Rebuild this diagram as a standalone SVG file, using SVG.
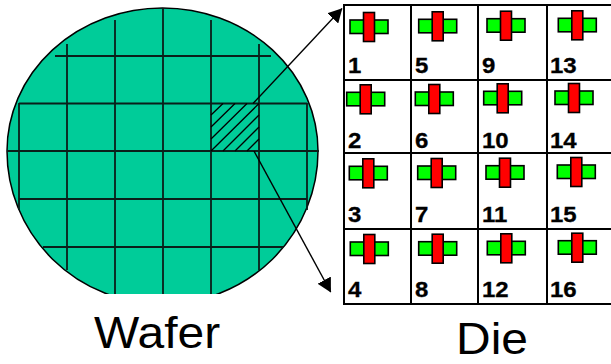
<svg xmlns="http://www.w3.org/2000/svg" width="611" height="364" viewBox="0 0 611 364">
<style>
.g{stroke:#0a1f1a;stroke-width:1.8;fill:none}
.h{stroke:#000;stroke-width:1.3;fill:none}
.t{stroke:#000;stroke-width:1.4;fill:none}
.n{font:bold 22px "Liberation Sans",Arial,sans-serif;fill:#000;stroke:#000;stroke-width:.3}
.l{font:44px "Liberation Sans",Arial,sans-serif;fill:#000}
.gr{fill:#00ff00;stroke:#000;stroke-width:1.6}
.rd{fill:#ff0000;stroke:#000;stroke-width:1.6}
.b{stroke:#000;stroke-width:2;fill:none}
</style>
<defs>
<clipPath id="cut"><rect x="0" y="0" width="330" height="294"/></clipPath>
<marker id="ah" viewBox="0 0 14 15" refX="13.500" refY="7.500" markerWidth="14" markerHeight="15" markerUnits="userSpaceOnUse" orient="auto"><path d="M0 0L14 7.500L0 15Z" fill="#000"/></marker>
<g id="x"><rect class="gr" x="-19" y="-7" width="38" height="13.500"/><rect class="rd" x="-5.500" y="-14.500" width="11" height="29"/></g>
</defs>
<g id="wafer">
<path d="M7 151A155.500 143 0 0 1 318 151A155.500 153 0 0 1 7 151Z" fill="#00cc99" stroke="#000" stroke-width="1.5" clip-path="url(#cut)"/>
<path class="g" d="M67 44V270M115 20V294M163 8V294M211 20V294M259 44V270M19 103V210M307 103V210M55 56H271M19 103.500H307M7 151H319M19 199H307M43 247H283"/>
<path class="h" d="M211 115L223 103.500M211 127L235 103.500M211 139L247 103.500M211 151L259 103.500M223 151L259 115M235 151L259 127M247 151L259 139"/>
<text class="l" transform="translate(94 348) scale(1.09 1)">Wafer</text>
</g>
<g id="connectors">
<path class="t" d="M253 103.500L342 8.500" marker-end="url(#ah)"/>
<path class="t" d="M254 151L330.700 292" marker-end="url(#ah)"/>
</g>
<g id="die">
<path class="b" d="M343 5H611M344 80H611M344 153H611M344 229H611M343 304H611M344 5V304M411 5V304M478 5V304M547 5V304"/>
<text class="l" transform="translate(456 354) scale(1.09 1)">Die</text>
</g>
<g id="cell-1"><use href="#x" x="369" y="27"/><text class="n" transform="translate(348 73) scale(1.09 1)">1</text></g>
<g id="cell-2"><use href="#x" x="365.700" y="99.300"/><text class="n" transform="translate(348 148) scale(1.09 1)">2</text></g>
<g id="cell-3"><use href="#x" x="368.300" y="173.300"/><text class="n" transform="translate(348 222) scale(1.09 1)">3</text></g>
<g id="cell-4"><use href="#x" x="369.300" y="249"/><text class="n" transform="translate(348 297) scale(1.09 1)">4</text></g>
<g id="cell-5"><use href="#x" x="437.700" y="26.300"/><text class="n" transform="translate(415 73) scale(1.09 1)">5</text></g>
<g id="cell-6"><use href="#x" x="434.300" y="99"/><text class="n" transform="translate(415 148) scale(1.09 1)">6</text></g>
<g id="cell-7"><use href="#x" x="436.700" y="173"/><text class="n" transform="translate(415 222) scale(1.09 1)">7</text></g>
<g id="cell-8"><use href="#x" x="437.700" y="248.700"/><text class="n" transform="translate(415 297) scale(1.09 1)">8</text></g>
<g id="cell-9"><use href="#x" x="506" y="25.700"/><text class="n" transform="translate(482 73) scale(1.09 1)">9</text></g>
<g id="cell-10"><use href="#x" x="502.700" y="98.300"/><text class="n" transform="translate(482 148) scale(1.09 1)">10</text></g>
<g id="cell-11"><use href="#x" x="505" y="172.700"/><text class="n" transform="translate(482 222) scale(1.09 1)">11</text></g>
<g id="cell-12"><use href="#x" x="506.300" y="248.300"/><text class="n" transform="translate(482 297) scale(1.09 1)">12</text></g>
<g id="cell-13"><use href="#x" x="577.300" y="25.300"/><text class="n" transform="translate(550 73) scale(1.09 1)">13</text></g>
<g id="cell-14"><use href="#x" x="574" y="98"/><text class="n" transform="translate(550 148) scale(1.09 1)">14</text></g>
<g id="cell-15"><use href="#x" x="576.300" y="172"/><text class="n" transform="translate(550 222) scale(1.09 1)">15</text></g>
<g id="cell-16"><use href="#x" x="577.300" y="247.700"/><text class="n" transform="translate(550 297) scale(1.09 1)">16</text></g>
</svg>
